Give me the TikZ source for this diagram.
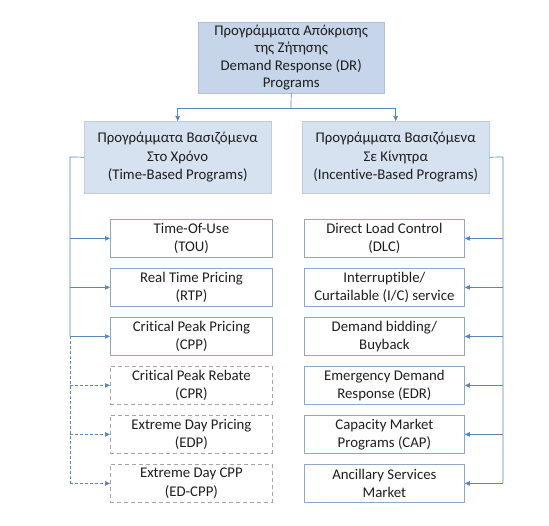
\documentclass[tikz,border=0pt]{standalone}
\usepackage{fontspec}
\setmainfont{Carlito}[Ligatures=NoCommon]
\usetikzlibrary{arrows.meta}
\definecolor{topfill}{HTML}{C6D5EA}
\definecolor{midfill}{HTML}{D7E2F1}
\definecolor{boxline}{HTML}{8FA8C8}
\definecolor{conn}{HTML}{5A86BD}
\definecolor{dashline}{HTML}{A6A6A6}
\definecolor{txt}{HTML}{1E1E1E}
\begin{document}
\begin{tikzpicture}[x=1bp,y=-1bp,
  base/.style={align=center,text=txt,font=\fontsize{14.8bp}{18.5bp}\selectfont,inner sep=0pt,anchor=north west},
  topbox/.style={base,font=\fontsize{14.8bp}{17.3bp}\selectfont,fill=topfill,draw=topfill!90!black,line width=0.4bp,minimum width=186bp,minimum height=71bp},
  midbox/.style={base,fill=midfill,draw=midfill!90!black,line width=0.4bp,minimum width=187bp,minimum height=72bp},
  lbox/.style={base,fill=white,draw=boxline,line width=0.8bp,minimum width=162bp,minimum height=38bp},
  rbox/.style={base,fill=white,draw=boxline,line width=0.8bp,minimum width=160bp,minimum height=38bp},
  dbox/.style={lbox,draw=dashline,dash pattern=on 4bp off 3bp},
  conline/.style={draw=conn,line width=0.7bp},
  arr/.style={conline,-{Triangle[length=5bp,width=4.5bp]}},
  darr/.style={arr,dash pattern=on 3bp off 2bp}
]
\path[fill=white] (0,0) rectangle (549,526);
\useasboundingbox (0,0) rectangle (549,526);

\node[topbox] (top) at (198,22) {Προγράμματα Απόκρισης\\της Ζήτησης\\Demand Response (DR)\\Programs};
\node[midbox] (tb) at (84,121) {Προγράμματα Βασιζόμενα\\Στο Χρόνο\\(Time-Based Programs)};
\node[midbox] (ib) at (302,121) {Προγράμματα Βασιζόμενα\\Σε Κίνητρα\\(Incentive-Based Programs)};

\node[lbox] (tou) at (110,219) {Time-Of-Use\\(TOU)};
\node[lbox] (rtp) at (110,268) {Real Time Pricing\\(RTP)};
\node[lbox] (cpp) at (110,317) {Critical Peak Pricing\\(CPP)};
\node[dbox] (cpr) at (110,366) {Critical Peak Rebate\\(CPR)};
\node[dbox] (edp) at (110,415) {Extreme Day Pricing\\(EDP)};
\node[dbox] (edcpp) at (110,464) {Extreme Day CPP\\(ED-CPP)};

\node[rbox] (dlc) at (304,219) {Direct Load Control\\(DLC)};
\node[rbox] (ic) at (304,268) {Interruptible/\\Curtailable (I/C) service};
\node[rbox] (db) at (304,317) {Demand bidding/\\Buyback};
\node[rbox] (edr) at (304,366) {Emergency Demand\\Response (EDR)};
\node[rbox] (cap) at (304,415) {Capacity Market\\Programs (CAP)};
\node[rbox] (asm) at (304,464) {Ancillary Services\\Market};

\coordinate (j) at (291,108);
\coordinate (lb) at (70,157);
\coordinate (rb) at (503,157);

\draw[conline] (top.south) -- (j);
\draw[arr] (j) -| (tb.north);
\draw[arr] (j) -| (ib.north);

\draw[conline] (tb.west) -- (lb) -- (cpp.west -| lb);
\draw[conline,dash pattern=on 3bp off 2bp] (cpp.west -| lb) -- (edcpp.west -| lb);
\draw[arr] (tou.west -| lb) -- (tou.west);
\draw[arr] (rtp.west -| lb) -- (rtp.west);
\draw[arr] (cpp.west -| lb) -- (cpp.west);
\draw[darr] (cpr.west -| lb) -- (cpr.west);
\draw[darr] (edp.west -| lb) -- (edp.west);
\draw[darr] (edcpp.west -| lb) -- (edcpp.west);

\draw[conline] (ib.east) -- (rb) -- (asm.east -| rb);
\draw[arr] (dlc.east -| rb) -- (dlc.east);
\draw[arr] (ic.east -| rb) -- (ic.east);
\draw[arr] (db.east -| rb) -- (db.east);
\draw[arr] (edr.east -| rb) -- (edr.east);
\draw[arr] (cap.east -| rb) -- (cap.east);
\draw[arr] (asm.east -| rb) -- (asm.east);
\end{tikzpicture}
\end{document}
